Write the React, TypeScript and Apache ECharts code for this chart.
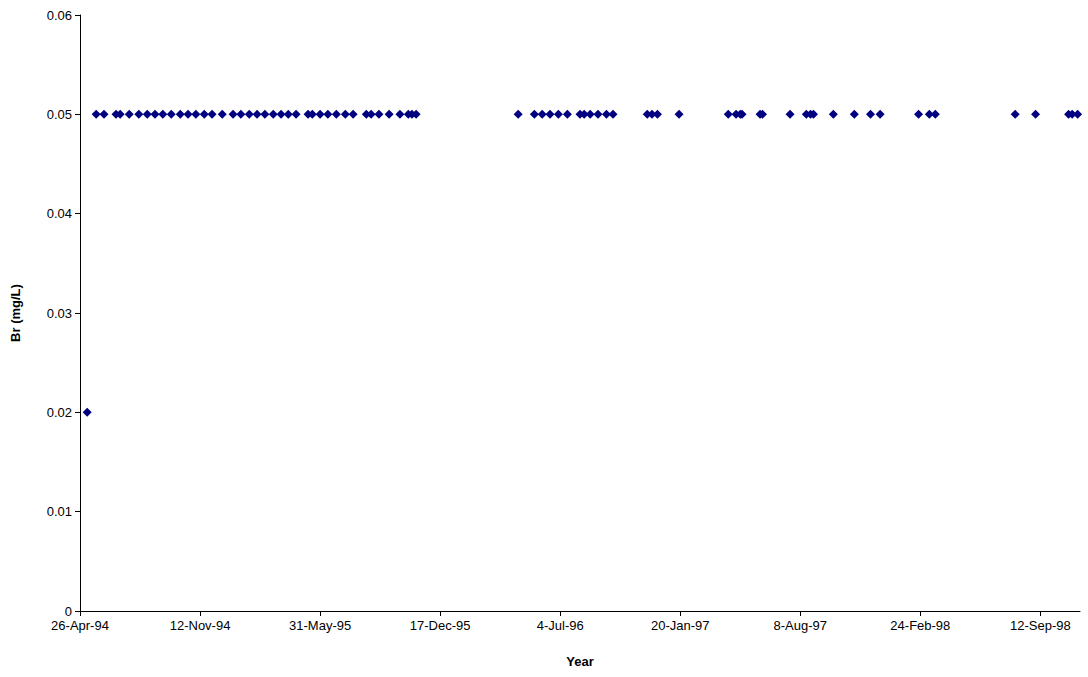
import React, { useEffect, useRef } from 'react';
import * as echarts from 'echarts';

const DAY = 86400000;
const startDate = Date.UTC(1994, 3, 26);
const axisDays = 1666;
const tickStepDays = 200;

// sample dates, read as days after 26-Apr-94
const lowDays = [12];
const lowValues = [0.02];
const highDays = [
  27, 40, 60, 67, 82, 98, 112, 125, 138, 152, 167, 180, 193, 207, 220, 237, 255, 268, 282, 295,
  308, 322, 335, 347, 360, 380, 387, 400, 413, 427, 442, 455, 477, 485, 498, 515, 533, 547, 553, 560,
  730, 757, 770, 783, 797, 812, 833, 840, 850, 863, 877, 888, 945, 953, 962, 998, 1080, 1093, 1100,
  1103, 1133, 1137, 1183, 1210, 1217, 1222, 1255, 1290, 1317, 1333, 1397, 1415, 1425, 1558, 1592,
  1647, 1653, 1662,
];
const highValue = 0.05;
const months = ['Jan', 'Feb', 'Mar', 'Apr', 'May', 'Jun', 'Jul', 'Aug', 'Sep', 'Oct', 'Nov', 'Dec'];

const fmt = (v: number) => {
  const d = new Date(v);
  return `${d.getUTCDate()}-${months[d.getUTCMonth()]}-${String(d.getUTCFullYear()).slice(2)}`;
};

export default function App() {
  const ref = useRef<HTMLDivElement>(null);

  useEffect(() => {
    if (!ref.current) return;
    const chart = echarts.init(ref.current, undefined, { renderer: 'svg' });
    const points = [
      ...lowDays.map((d, i) => [startDate + d * DAY, lowValues[i]]),
      ...highDays.map((d) => [startDate + d * DAY, highValue]),
    ];
    const axisText = { color: '#000', fontSize: 13, fontFamily: 'Arial, Liberation Sans' };
    chart.setOption({
      animation: false,
      grid: { left: 80, right: 8, top: 15, bottom: 66 },
      xAxis: {
        type: 'value',
        min: startDate,
        max: startDate + axisDays * DAY,
        interval: tickStepDays * DAY,
        name: 'Year',
        nameLocation: 'middle',
        nameGap: 44,
        nameTextStyle: { ...axisText, fontWeight: 'bold' },
        axisLine: { lineStyle: { color: '#000' } },
        axisTick: { lineStyle: { color: '#000' }, length: 5 },
        splitLine: { show: false },
        axisLabel: { ...axisText, formatter: fmt, showMaxLabel: false, margin: 8 },
      },
      yAxis: {
        type: 'value',
        min: 0,
        max: 0.06,
        interval: 0.01,
        name: 'Br (mg/L)',
        nameLocation: 'middle',
        nameGap: 58,
        nameTextStyle: { ...axisText, fontWeight: 'bold' },
        axisLine: { show: true, lineStyle: { color: '#000' } },
        axisTick: { show: true, lineStyle: { color: '#000' }, length: 5 },
        splitLine: { show: false },
        axisLabel: { ...axisText, formatter: (v: number) => String(Number(v.toFixed(2))) },
      },
      series: [
        {
          type: 'scatter',
          data: points,
          symbol: 'diamond',
          symbolSize: 9,
          itemStyle: { color: '#000080', opacity: 1 },
        },
      ],
    });
    return () => chart.dispose();
  }, []);

  return <div ref={ref} style={{ position: 'fixed', left: 0, top: 0, width: 1088, height: 677, background: '#fff' }} />;
}
